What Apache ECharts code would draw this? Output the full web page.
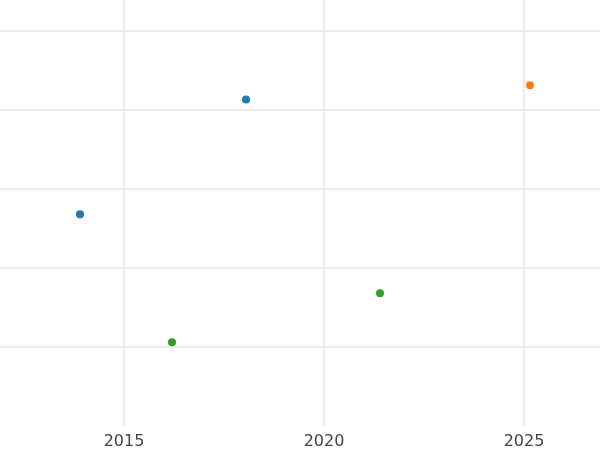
<!DOCTYPE html>
<html>
<head>
<meta charset="utf-8">
<script src="https://cdn.jsdelivr.net/npm/echarts@6/dist/echarts.min.js"></script>
<style>html,body{margin:0;padding:0;background:#fff}#chart{width:600px;height:450px}</style>
</head>
<body>
<div id="chart"></div>
<script>
// values
const blueX = [2013.9, 2018.05];
const blueY = [2.68, 4.13];
const orangeX = [2025.15];
const orangeY = [4.31];
const greenX = [2016.2, 2021.4];
const greenY = [1.06, 1.68];

function pairs(xs, ys) {
	return xs.map(function (x, i) { return [x, ys[i]]; });
}

let myChart = echarts.init(document.getElementById('chart'));
myChart.setOption({
	backgroundColor: '#fff',
	animation: false,
	grid: { left: 0, right: 0, top: 0, bottom: 23 },
	xAxis: {
		type: 'value', min: 2011.9, max: 2026.9, splitNumber: 3,
		axisLine: { show: false }, axisTick: { show: false },
		axisLabel: { color: '#444', fontSize: 16, fontFamily: 'DejaVu Sans', margin: 8,
			showMinLabel: false, showMaxLabel: false,
			formatter: function (v) { return String(v); } },
		splitLine: { showMinLine: false, showMaxLine: false, lineStyle: { color: '#e6e6e6', width: 1.5 } }
	},
	yAxis: {
		type: 'value', min: 0, max: 5.39, interval: 1,
		axisLine: { show: false }, axisTick: { show: false }, axisLabel: { show: false },
		splitLine: { showMinLine: false, showMaxLine: false, lineStyle: { color: '#e6e6e6', width: 1.5 } }
	},
	series: [
		{ type: 'scatter', symbolSize: 8, itemStyle: { color: '#1f77b4', opacity: 1 }, data: pairs(blueX, blueY) },
		{ type: 'scatter', symbolSize: 8, itemStyle: { color: '#ff7f0e', opacity: 1 }, data: pairs(orangeX, orangeY) },
		{ type: 'scatter', symbolSize: 8, itemStyle: { color: '#2ca02c', opacity: 1 }, data: pairs(greenX, greenY) }
	]
});
</script>
</body>
</html>
